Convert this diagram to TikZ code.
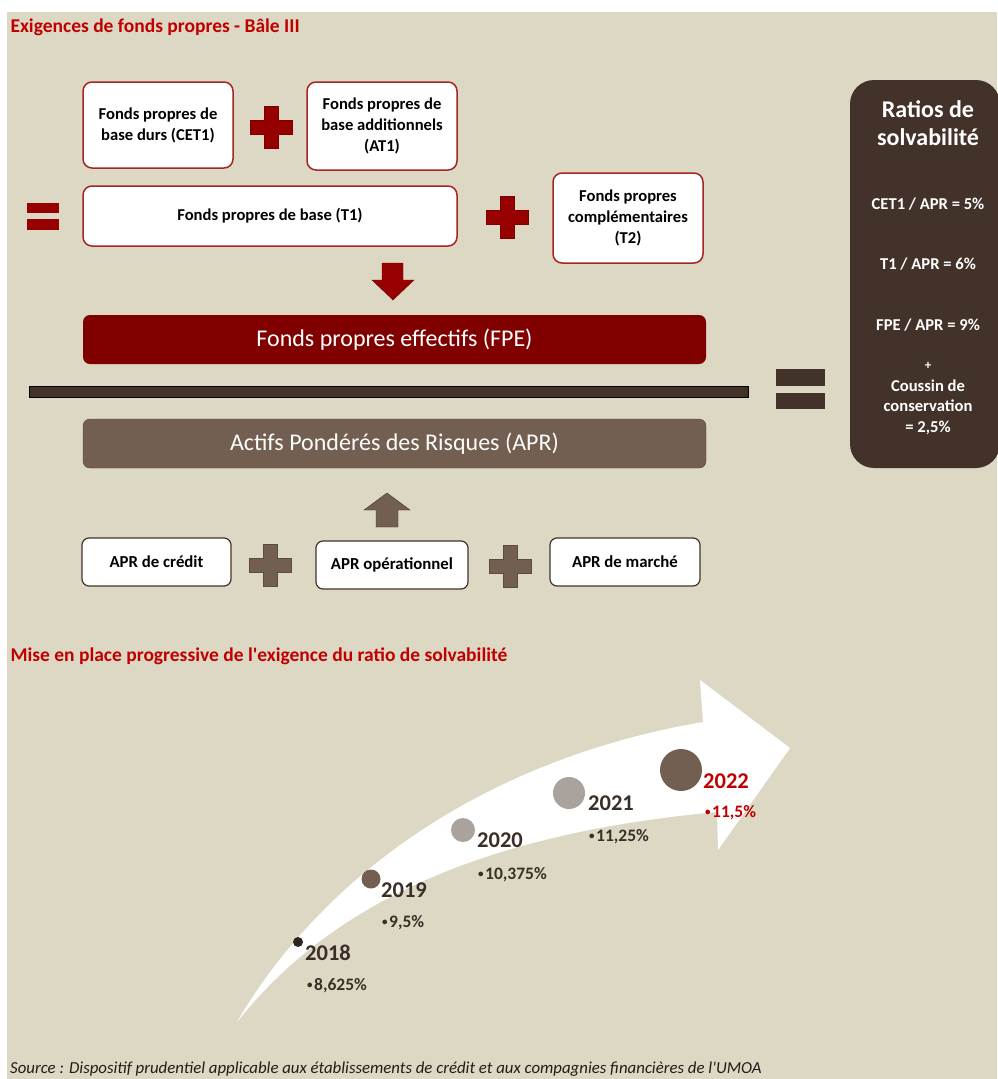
\documentclass[tikz,border=0pt]{standalone}
\usepackage{fontspec}
\setmainfont{Carlito}
\definecolor{bgbeige}{HTML}{DDD8C4}
\definecolor{titlered}{HTML}{C00000}
\definecolor{boxred}{HTML}{A32626}
\definecolor{crossred}{HTML}{960000}
\definecolor{fpered}{HTML}{800000}
\definecolor{darkbrown}{HTML}{43322A}
\definecolor{midbrown}{HTML}{725F52}
\definecolor{lightgrey}{HTML}{AAA39D}
\definecolor{yeartext}{HTML}{3A2E28}
% plus sign: centre x, centre y, fill colour
\newcommand{\plusmark}[3]{%
  \draw[#3!80!black, fill=#3, line width=0.6pt]
    (#1-7,#2-21) -- (#1+7,#2-21) -- (#1+7,#2-7) -- (#1+21,#2-7) -- (#1+21,#2+7)
    -- (#1+7,#2+7) -- (#1+7,#2+21) -- (#1-7,#2+21) -- (#1-7,#2+7) -- (#1-21,#2+7)
    -- (#1-21,#2-7) -- (#1-7,#2-7) -- cycle;}
\newcommand{\dotmark}{\raisebox{2.6pt}{\fontsize{11}{11}\selectfont•}\hspace{1.5pt}}
\begin{document}
\begin{tikzpicture}[x=1pt,y=-1pt,
  fpbox/.style={draw=boxred, line width=1.5pt, fill=white, rounded corners=9pt,
    align=center, inner sep=0pt, font=\bfseries\fontsize{16.6}{21}\selectfont},
  aprbox/.style={draw=darkbrown, line width=1.2pt, fill=white, rounded corners=7pt,
    minimum height=48pt, inner sep=0pt, font=\bfseries\fontsize{16.8}{19}\selectfont},
  bigbar/.style={rounded corners=7pt, minimum width=623pt, minimum height=49pt,
    text=white, font=\fontsize{24}{28}\selectfont},
  ratiotxt/.style={text=white, font=\bfseries\fontsize{16.6}{20}\selectfont},
  heading/.style={anchor=west, text=titlered, font=\bfseries\fontsize{19.5}{23}\selectfont},
  yearlbl/.style={anchor=west, text=yeartext, inner sep=0pt, font=\bfseries\fontsize{22.5}{26}\selectfont},
  ratelbl/.style={anchor=west, text=yeartext, inner sep=0pt, font=\bfseries\fontsize{17.5}{20}\selectfont}]
\useasboundingbox (0,0) rectangle (997,1079);
\fill[bgbeige] (7,12) rectangle (997,1079);

% --- exigences de fonds propres
\node[heading] (titre) at (7,27) {Exigences de fonds propres - Bâle III};
\node[fpbox, minimum width=150pt, minimum height=86pt] (cet1) at (158,125) {Fonds propres de\\base durs (CET1)};
\node[fpbox, minimum width=150pt, minimum height=88pt] (at1) at (382,126) {Fonds propres de\\base additionnels\\(AT1)};
\node[fpbox, minimum width=374pt, minimum height=60pt] (t1) at (270,216) {Fonds propres de base (T1)};
\node[fpbox, minimum width=150pt, minimum height=90pt] (t2) at (628,218) {Fonds propres\\complémentaires\\(T2)};
\plusmark{271}{127}{crossred}
\plusmark{507}{217}{crossred}
\fill[crossred] (27,203) rectangle (59,213);
\fill[crossred] (27,219) rectangle (59,230);
\draw[crossred!80!black, fill=crossred] (382,263) -- (403,263) -- (403,280) -- (414,280)
  -- (393,300) -- (372,280) -- (382,280) -- cycle;

\node[bigbar, fill=fpered] (fpe) at (394.5,339.5) {Fonds propres effectifs (FPE)};
\draw[black, fill=darkbrown] (29,386) rectangle (748,397);
\node[bigbar, fill=midbrown, draw=midbrown!70!black, text=white!92!bgbeige] (apr) at (394.5,443.5) {Actifs Pondérés des Risques (APR)};
\fill[darkbrown] (776,369) rectangle (825,386);
\fill[darkbrown] (776,393) rectangle (825,409);

\draw[darkbrown, fill=midbrown] (387,493) -- (410,510) -- (398,510) -- (398,527)
  -- (376,527) -- (376,510) -- (364,510) -- cycle;
\node[aprbox, minimum width=149pt] (credit) at (156.5,562) {APR de crédit};
\node[aprbox, minimum width=152pt] (operat) at (392,565) {APR opérationnel};
\node[aprbox, minimum width=150pt] (marche) at (625,562) {APR de marché};
\plusmark{270}{565}{midbrown}
\plusmark{510}{566}{midbrown}

% --- ratios
\fill[darkbrown, rounded corners=24pt] (850,80) rectangle (1000,468);
\node[ratiotxt, font=\bfseries\fontsize{24}{28}\selectfont, align=center] (ratios) at (928,123) {Ratios de\\solvabilité};
\node[ratiotxt] (r1) at (928,204) {CET1 / APR = 5\%};
\node[ratiotxt] (r2) at (928,264) {T1 / APR = 6\%};
\node[ratiotxt] (r3) at (928,325) {FPE / APR = 9\%};
\node[ratiotxt, font=\bfseries\fontsize{13}{14}\selectfont] (r4) at (928,366) {+};
\node[ratiotxt, align=center, font=\bfseries\fontsize{16.6}{20.5}\selectfont] (r5) at (928,407) {Coussin de\\conservation\\= 2,5\%};

% --- mise en place progressive
\node[heading] (titre2) at (7,656) {Mise en place progressive de l\textquotesingle exigence du ratio de solvabilité};
\fill[white] (237,1022) .. controls (320,880) and (480,760) .. (703,722) -- (700,680)
  -- (790,748) -- (718,850) -- (717,812) .. controls (520,830) and (345,885) .. (237,1022) -- cycle;
\fill[yeartext!80!black] (298,942) circle[radius=5];
\fill[midbrown] (371,879) circle[radius=9.5];
\fill[lightgrey] (463,830) circle[radius=12];
\fill[lightgrey] (569,793) circle[radius=16];
\fill[midbrown] (681,770) circle[radius=21];
\node[yearlbl] (a2018) at (305,953) {2018};
\node[yearlbl] (a2019) at (381,890) {2019};
\node[yearlbl] (a2020) at (477,840) {2020};
\node[yearlbl] (a2021) at (588,803) {2021};
\node[yearlbl, text=titlered] (a2022) at (703,781) {2022};
\node[ratelbl] (v2018) at (307,986) {\dotmark 8,625\%};
\node[ratelbl] (v2019) at (382,923) {\dotmark 9,5\%};
\node[ratelbl] (v2020) at (478,875) {\dotmark 10,375\%};
\node[ratelbl] (v2021) at (589,837) {\dotmark 11,25\%};
\node[ratelbl, text=titlered] (v2022) at (705,813) {\dotmark 11,5\%};

\node[anchor=base west, inner sep=0pt, text=yeartext!60!black, font=\itshape\fontsize{16.8}{19}\selectfont] (source) at (10,1073)
  {Source : Dispositif prudentiel applicable aux établissements de crédit et aux compagnies financières de l\textquotesingle UMOA};
\end{tikzpicture}
\end{document}
